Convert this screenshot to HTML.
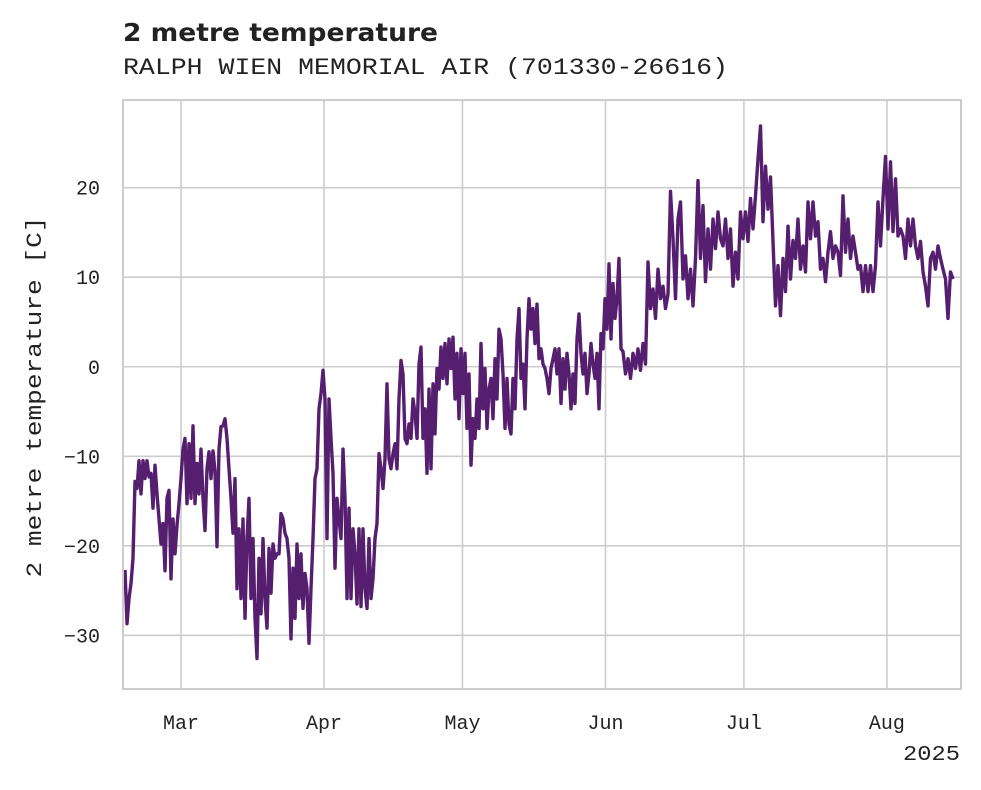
<!DOCTYPE html>
<html><head><meta charset="utf-8"><style>
body{margin:0;background:#fff;}
svg text{font-family:"Liberation Mono","DejaVu Sans Mono",monospace;fill:#222;}
</style></head><body>
<svg id="chart" width="981" height="785" xmlns="http://www.w3.org/2000/svg">
<text x="123" y="41" textLength="315" lengthAdjust="spacingAndGlyphs" style="font-family:'DejaVu Sans','Liberation Sans',sans-serif;font-weight:bold;font-size:25px">2 metre temperature</text>
<text x="123" y="74" textLength="605" lengthAdjust="spacingAndGlyphs" style="font-size:23px">RALPH WIEN MEMORIAL AIR (701330-26616)</text>
<text transform="translate(41,397) rotate(-90)" text-anchor="middle" textLength="361" lengthAdjust="spacingAndGlyphs" style="font-size:22px">2 metre temperature [C]</text>
<g id="grid"></g>
<g id="series"></g>
<rect x="123" y="100" width="838" height="589" fill="none" stroke="#cccccc" stroke-width="2"/>
<g id="ticks"></g>
<text x="960" y="760" text-anchor="end" textLength="57" lengthAdjust="spacingAndGlyphs" style="font-size:21px">2025</text>
</svg>
<script>
const yTicks=[20,10,0,-10,-20,-30];
const xTickDays=[0,31,61,92,122,153];
const xTickLabels=["Mar","Apr","May","Jun","Jul","Aug"];
const startDayA=-12.14, stepDaysA=0.4335;
const tempsA=[-22.7,-28.7,-25.9,-24.2,-21.4,-12.8,-13.6,-10.5,-14.2,-10.5,-12.5,-10.5,-12.3,-11.9,-15.8,-11.0,-14.2,-17.0,-19.8,-17.5,-22.8,-14.7,-13.8,-23.7,-17.0,-20.9,-17.7,-15.3,-12.5,-9.2,-8.0,-15.3,-8.6,-14.7,-6.6,-15.3,-10.8,-14.2,-9.2,-14.7,-18.3,-11.4,-9.5,-12.5,-9.4,-11.6,-20.1,-9.2,-6.7,-6.6,-5.8,-8.0,-11.4,-14.7,-18.6,-12.5,-24.8,-18.1,-25.9,-17.0,-28.1,-19.2,-14.7,-25.9,-19.2,-28.1,-32.6,-21.4,-27.6,-19.2,-25.9,-29.2,-20.3,-25.3,-19.8,-21.4,-20.9,-20.9,-16.4,-17.0,-18.6,-19.2,-21.4,-30.4,-22.5,-28.1,-19.8,-25.9,-20.9,-27.0,-23.1,-24.8,-30.9,-24.8,-19.2,-12.5,-11.4,-4.7,-3.0,-0.4,-3.6,-19.2,-3.6,-8.0,-11.9,-22.5,-14.7,-17.0,-19.2,-9.2,-14.7,-25.9,-15.8,-25.9,-18.1,-20.9,-26.5,-18.1,-26.8,-18.1,-24.8,-27.0,-19.2,-25.9,-23.7,-19.2,-17.5,-9.7,-11.4,-13.6,-10.3,-1.9,-10.3,-11.4,-9.7,-8.6,-11.4,-3.6,0.7,-0.8,-8.0,-8.6,-6.4,-8.0,-3.6,-5.2,-8.0,0.3,2.2,-8.0,-4.7,-11.9,-2.5,-11.4,-1.9,-7.5,-0.2,-2.5,2.2,-1.3,2.6,-1.9,3.1,-0.2,3.3,-3.6,1.5,-5.8,2.0,-3.0,1.5,-6.9,-0.8,-11.0,-5.8,-8.0,-3.6,-6.9,2.6,-4.7,-0.2,-6.9,-2.5,-1.3,-5.8,0.9,-3.6,4.2,3.1,-0.8,-6.9,-1.3,-6.4,-7.5,-1.3,-4.7,3.1,6.5,-1.3,0.3,-4.7,3.1,7.6,4.2,6.5,2.6,7.0,0.9,2.0,0.3,-0.2,-1.3,-3.0,-0.2,0.9,2.0,-0.8,2.0,-4.1,0.9,-2.5,1.5,-0.8,-4.7,-0.8,-4.1,3.1,5.9,1.5,-0.8,1.5,-3.0,-0.8,2.6,0.3,-1.3,1.5,-4.7,3.7,2.0,7.6,4.2,11.5,3.1,9.3,5.4,7.6,12.1,2.0];
const startDayB=95.80, stepDaysB=0.5418;
const tempsB=[1.7,-0.8,0.9,-1.3,1.5,-0.2,2.0,-0.4,2.6,0.3,11.7,6.5,8.7,5.4,10.9,7.6,9.0,6.5,8.1,19.6,14.3,7.6,16.5,18.4,9.8,12.4,7.6,10.9,6.8,12.1,20.8,12.1,18.0,9.5,15.4,10.9,16.5,13.2,17.3,14.3,13.5,16.5,12.1,15.4,9.0,12.8,9.8,17.3,14.3,17.3,14.0,18.8,15.4,19.1,23.2,26.9,16.2,22.4,17.6,21.2,14.0,6.8,11.3,5.7,12.1,8.4,15.7,9.8,14.1,12.1,16.5,10.9,13.5,10.6,18.4,14.3,18.4,14.6,16.2,10.9,12.1,9.5,12.8,15.1,12.1,13.5,12.8,10.2,19.1,12.8,16.5,12.1,14.6,12.8,10.9,11.3,8.4,11.3,8.4,11.3,8.4,11.3,18.4,13.5,18.8,23.5,15.4,22.9,15.1,21.0,14.6,15.4,14.6,12.1,16.5,13.5,16.5,13.5,12.1,14.0,10.6,9.0,6.8,12.1,12.8,10.9,13.5,12.1,10.9,9.8,5.4,10.6,9.8];
const NS="http://www.w3.org/2000/svg";
const X0=123,X1=961,Y0=100,Y1=689;
const dMin=-12.57,dMax=169.05,tMin=-36.0,tMax=29.8;
function xs(d){return X0+(d-dMin)/(dMax-dMin)*(X1-X0);}
function ys(t){return Y1-(t-tMin)/(tMax-tMin)*(Y1-Y0);}
const grid=document.getElementById('grid'),ticks=document.getElementById('ticks'),ser=document.getElementById('series');
function mk(tag,attrs,parent){const e=document.createElementNS(NS,tag);for(const k in attrs)e.setAttribute(k,attrs[k]);parent.appendChild(e);return e;}
yTicks.forEach(v=>{
  const y=ys(v);
  const l=mk('line',{x1:X0,x2:X1,y1:y,y2:y,stroke:'#cccccc','stroke-width':1.6},grid);
  
  
  const t=mk('text',{x:100,y:y+7,'text-anchor':'end','font-size':20},ticks);
  
  
  t.textContent=(v<0?'\u2212':'')+Math.abs(v);
});
xTickDays.forEach((d,i)=>{
  const x=xs(d);
  const l=mk('line',{x1:x,x2:x,y1:Y0,y2:Y1,stroke:'#cccccc','stroke-width':1.6},grid);
  
  
  const t=mk('text',{x:x,y:729,'text-anchor':'middle','font-size':20},ticks);
  
  
  t.textContent=xTickLabels[i];
});
let pts=[];
tempsA.forEach((v,i)=>pts.push(xs(startDayA+i*stepDaysA).toFixed(1)+','+ys(v).toFixed(1)));
tempsB.forEach((v,i)=>pts.push(xs(startDayB+i*stepDaysB).toFixed(1)+','+ys(v).toFixed(1)));
const pl=mk('polyline',{points:pts.join(' '),fill:'none',stroke:'#561e6f','stroke-width':3.4,'stroke-linejoin':'round'},ser);


</script>
</body></html>
